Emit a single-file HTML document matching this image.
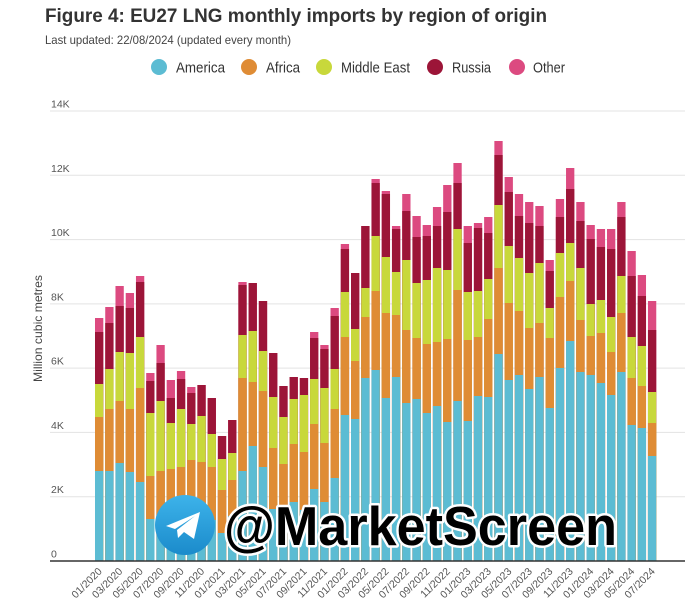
<!DOCTYPE html>
<html><head><meta charset="utf-8"><style>html,body{margin:0;padding:0;background:#fff}svg{display:block}</style></head>
<body>
<svg width="700" height="613" viewBox="0 0 700 613" xmlns="http://www.w3.org/2000/svg" font-family="'Liberation Sans', sans-serif">
<defs>
<linearGradient id="tg" x1="0" y1="0" x2="0" y2="1"><stop offset="0" stop-color="#3db3ea"/><stop offset="1" stop-color="#1b8bcb"/></linearGradient>
</defs>
<rect width="700" height="613" fill="#fff"/>
<text x="45" y="22" font-size="19.5" font-weight="bold" fill="#333" textLength="502" lengthAdjust="spacingAndGlyphs">Figure 4: EU27 LNG monthly imports by region of origin</text>
<text x="45" y="44" font-size="12" fill="#444" textLength="246" lengthAdjust="spacingAndGlyphs">Last updated: 22/08/2024 (updated every month)</text>
<g font-size="15" fill="#333">
<circle cx="159" cy="67" r="8" fill="#5cbcd3"/><text x="176" y="72.5" textLength="49" lengthAdjust="spacingAndGlyphs">America</text>
<circle cx="249" cy="67" r="8" fill="#df8c35"/><text x="266" y="72.5" textLength="34" lengthAdjust="spacingAndGlyphs">Africa</text>
<circle cx="324" cy="67" r="8" fill="#c8d83b"/><text x="341" y="72.5" textLength="69" lengthAdjust="spacingAndGlyphs">Middle East</text>
<circle cx="435" cy="67" r="8" fill="#9c1538"/><text x="452" y="72.5" textLength="39" lengthAdjust="spacingAndGlyphs">Russia</text>
<circle cx="517" cy="67" r="8" fill="#dc4a80"/><text x="533" y="72.5" textLength="32" lengthAdjust="spacingAndGlyphs">Other</text>
</g>
<g stroke="#e3e3e3" stroke-width="1">
<line x1="50" y1="111" x2="685" y2="111"/><line x1="50" y1="175.3" x2="685" y2="175.3"/><line x1="50" y1="239.6" x2="685" y2="239.6"/><line x1="50" y1="303.9" x2="685" y2="303.9"/><line x1="50" y1="368.1" x2="685" y2="368.1"/><line x1="50" y1="432.4" x2="685" y2="432.4"/><line x1="50" y1="496.7" x2="685" y2="496.7"/>
</g>
<g font-size="10.5" fill="#555">
<text x="51" y="107.5">14K</text><text x="51" y="171.8">12K</text><text x="51" y="236.1">10K</text><text x="51" y="300.4">8K</text><text x="51" y="364.6">6K</text><text x="51" y="428.9">4K</text><text x="51" y="493.2">2K</text><text x="51" y="557.5">0</text>
</g>
<text x="42" y="328.5" font-size="12" fill="#444" text-anchor="middle" transform="rotate(-90 42 328.5)" textLength="107" lengthAdjust="spacingAndGlyphs">Million cubic metres</text>
<g fill="none" stroke-width="8.3">
<path stroke="#dc4a80" d="M99.15 561V318M109.39 561V307M119.63 561V286M129.87 561V293M140.11 561V276M150.35 561V373M160.59 561V345M170.83 561V380M181.07 561V371M191.31 561V387M201.55 561V385M211.79 561V398M222.03 561V436M232.27 561V420M242.51 561V282M252.75 561V283M262.99 561V301M273.23 561V353M283.47 561V386M293.71 561V377M303.95 561V378M314.19 561V332M324.43 561V345M334.67 561V308M344.91 561V244M355.15 561V273M365.39 561V226M375.63 561V179M385.87 561V191M396.11 561V226M406.35 561V194M416.59 561V216M426.83 561V225M437.07 561V207M447.31 561V185M457.55 561V163M467.79 561V226M478.03 561V223M488.27 561V217M498.51 561V141M508.75 561V177M518.99 561V194M529.23 561V202M539.47 561V206M549.71 561V260M559.95 561V199M570.19 561V168M580.43 561V202M590.67 561V225M600.91 561V229M611.15 561V229M621.39 561V202M631.63 561V251M641.87 561V275M652.11 561V301"/>
<path stroke="#9c1538" d="M99.15 561V332M109.39 561V323M119.63 561V306M129.87 561V308M140.11 561V282M150.35 561V381M160.59 561V363M170.83 561V398M181.07 561V379M191.31 561V393M201.55 561V385M211.79 561V398M222.03 561V436M232.27 561V420M242.51 561V285M252.75 561V283M262.99 561V301M273.23 561V353M283.47 561V386M293.71 561V377M303.95 561V378M314.19 561V338M324.43 561V349M334.67 561V316M344.91 561V249M355.15 561V273M365.39 561V226M375.63 561V183M385.87 561V194M396.11 561V229M406.35 561V211M416.59 561V237M426.83 561V236M437.07 561V226M447.31 561V212M457.55 561V183M467.79 561V243M478.03 561V228M488.27 561V233M498.51 561V155M508.75 561V192M518.99 561V216M529.23 561V223M539.47 561V226M549.71 561V271M559.95 561V217M570.19 561V189M580.43 561V221M590.67 561V239M600.91 561V247M611.15 561V249M621.39 561V217M631.63 561V276M641.87 561V296M652.11 561V330"/>
<path stroke="#c8d83b" d="M99.15 561V384M109.39 561V369M119.63 561V352M129.87 561V353M140.11 561V337M150.35 561V413M160.59 561V401M170.83 561V423M181.07 561V409M191.31 561V424M201.55 561V416M211.79 561V434M222.03 561V459M232.27 561V453M242.51 561V335M252.75 561V331M262.99 561V351M273.23 561V397M283.47 561V417M293.71 561V399M303.95 561V395M314.19 561V379M324.43 561V388M334.67 561V369M344.91 561V292M355.15 561V329M365.39 561V288M375.63 561V236M385.87 561V257M396.11 561V272M406.35 561V260M416.59 561V283M426.83 561V280M437.07 561V268M447.31 561V270M457.55 561V229M467.79 561V292M478.03 561V291M488.27 561V279M498.51 561V205M508.75 561V246M518.99 561V258M529.23 561V273M539.47 561V263M549.71 561V308M559.95 561V253M570.19 561V243M580.43 561V268M590.67 561V304M600.91 561V300M611.15 561V317M621.39 561V276M631.63 561V337M641.87 561V346M652.11 561V392"/>
<path stroke="#df8c35" d="M99.15 561V417M109.39 561V409M119.63 561V401M129.87 561V409M140.11 561V388M150.35 561V476M160.59 561V471M170.83 561V469M181.07 561V467M191.31 561V460M201.55 561V462M211.79 561V467M222.03 561V490M232.27 561V480M242.51 561V378M252.75 561V382M262.99 561V391M273.23 561V448M283.47 561V464M293.71 561V444M303.95 561V452M314.19 561V424M324.43 561V443M334.67 561V409M344.91 561V337M355.15 561V361M365.39 561V317M375.63 561V291M385.87 561V313M396.11 561V315M406.35 561V330M416.59 561V338M426.83 561V344M437.07 561V342M447.31 561V339M457.55 561V290M467.79 561V340M478.03 561V337M488.27 561V319M498.51 561V268M508.75 561V303M518.99 561V311M529.23 561V328M539.47 561V323M549.71 561V338M559.95 561V297M570.19 561V281M580.43 561V320M590.67 561V336M600.91 561V333M611.15 561V352M621.39 561V313M631.63 561V378M641.87 561V386M652.11 561V423"/>
<path stroke="#5cbcd3" d="M99.15 561V471M109.39 561V471M119.63 561V463M129.87 561V472M140.11 561V482M150.35 561V519M160.59 561V516M170.83 561V516M181.07 561V514M191.31 561V512M201.55 561V515M211.79 561V520M222.03 561V533M232.27 561V516M242.51 561V471M252.75 561V446M262.99 561V467M273.23 561V509M283.47 561V513M293.71 561V502M303.95 561V510M314.19 561V489M324.43 561V502M334.67 561V478M344.91 561V415M355.15 561V419M365.39 561V378M375.63 561V370M385.87 561V398M396.11 561V377M406.35 561V403M416.59 561V399M426.83 561V413M437.07 561V406M447.31 561V422M457.55 561V401M467.79 561V421M478.03 561V396M488.27 561V397M498.51 561V354M508.75 561V380M518.99 561V375M529.23 561V389M539.47 561V377M549.71 561V408M559.95 561V368M570.19 561V341M580.43 561V372M590.67 561V375M600.91 561V383M611.15 561V395M621.39 561V372M631.63 561V425M641.87 561V428M652.11 561V456"/>
</g>
<line x1="50" y1="561" x2="685" y2="561" stroke="#333" stroke-width="1.5"/>
<g font-size="10.5" fill="#555" text-anchor="end">
<text x="102.65" y="572" transform="rotate(-45 102.65 572)">01/2020</text>
<text x="123.13" y="572" transform="rotate(-45 123.13 572)">03/2020</text>
<text x="143.61" y="572" transform="rotate(-45 143.61 572)">05/2020</text>
<text x="164.09" y="572" transform="rotate(-45 164.09 572)">07/2020</text>
<text x="184.57" y="572" transform="rotate(-45 184.57 572)">09/2020</text>
<text x="205.05" y="572" transform="rotate(-45 205.05 572)">11/2020</text>
<text x="225.53" y="572" transform="rotate(-45 225.53 572)">01/2021</text>
<text x="246.01" y="572" transform="rotate(-45 246.01 572)">03/2021</text>
<text x="266.49" y="572" transform="rotate(-45 266.49 572)">05/2021</text>
<text x="286.97" y="572" transform="rotate(-45 286.97 572)">07/2021</text>
<text x="307.45" y="572" transform="rotate(-45 307.45 572)">09/2021</text>
<text x="327.93" y="572" transform="rotate(-45 327.93 572)">11/2021</text>
<text x="348.41" y="572" transform="rotate(-45 348.41 572)">01/2022</text>
<text x="368.89" y="572" transform="rotate(-45 368.89 572)">03/2022</text>
<text x="389.37" y="572" transform="rotate(-45 389.37 572)">05/2022</text>
<text x="409.85" y="572" transform="rotate(-45 409.85 572)">07/2022</text>
<text x="430.33" y="572" transform="rotate(-45 430.33 572)">09/2022</text>
<text x="450.81" y="572" transform="rotate(-45 450.81 572)">11/2022</text>
<text x="471.29" y="572" transform="rotate(-45 471.29 572)">01/2023</text>
<text x="491.77" y="572" transform="rotate(-45 491.77 572)">03/2023</text>
<text x="512.25" y="572" transform="rotate(-45 512.25 572)">05/2023</text>
<text x="532.73" y="572" transform="rotate(-45 532.73 572)">07/2023</text>
<text x="553.21" y="572" transform="rotate(-45 553.21 572)">09/2023</text>
<text x="573.69" y="572" transform="rotate(-45 573.69 572)">11/2023</text>
<text x="594.17" y="572" transform="rotate(-45 594.17 572)">01/2024</text>
<text x="614.65" y="572" transform="rotate(-45 614.65 572)">03/2024</text>
<text x="635.13" y="572" transform="rotate(-45 635.13 572)">05/2024</text>
<text x="655.61" y="572" transform="rotate(-45 655.61 572)">07/2024</text>
</g>
<circle cx="185" cy="525" r="30" fill="url(#tg)"/>
<path d="M166 526 L200 512 L194 539 L184 532 L178 538 L177 530 L195 516 L175 529 Z" fill="#fff"/>
<text x="224" y="545" font-size="55" font-weight="bold" fill="#000" stroke="#fff" stroke-width="5" stroke-linejoin="round" paint-order="stroke" textLength="393" lengthAdjust="spacingAndGlyphs">@MarketScreen</text>
</svg>
</body></html>
